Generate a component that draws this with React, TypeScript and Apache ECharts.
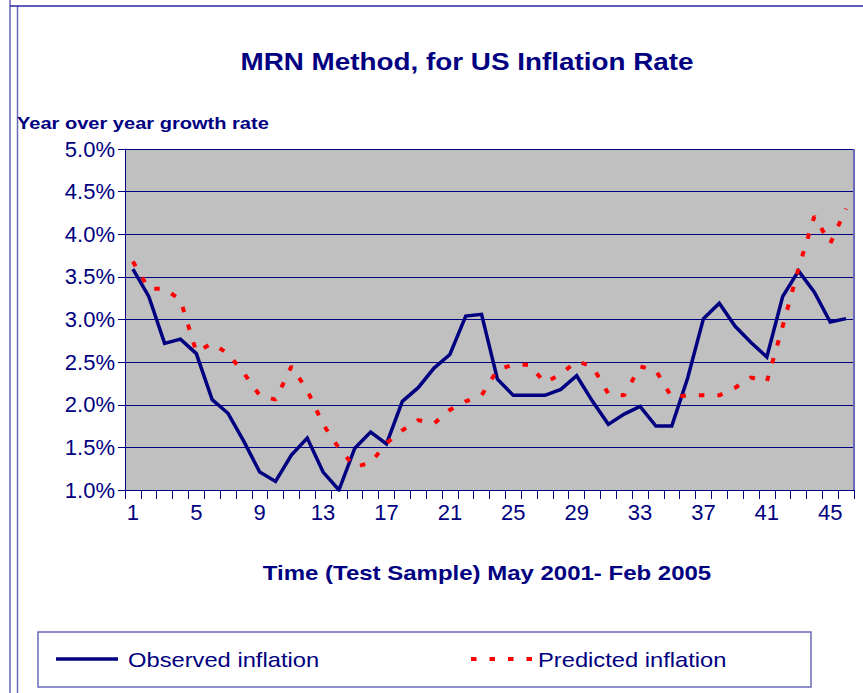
import React, { useEffect, useRef } from "react";
import * as echarts from "echarts";

const categories: string[] = Array.from({ length: 46 }, (_, i) => String(i + 1));

const observed: number[] = [
  3.59, 3.27, 2.72, 2.77, 2.6, 2.06, 1.9, 1.57, 1.21, 1.1,
  1.41, 1.61, 1.21, 1.0, 1.49, 1.68, 1.54, 2.04, 2.2, 2.43,
  2.59, 3.04, 3.06, 2.3, 2.11, 2.11, 2.11, 2.18, 2.34, 2.04,
  1.77, 1.89, 1.98, 1.75, 1.75, 2.31, 3.01, 3.19, 2.92, 2.73,
  2.56, 3.27, 3.57, 3.32, 2.97, 3.01,
];

const predicted: number[] = [
  3.68, 3.36, 3.36, 3.23, 2.62, 2.72, 2.6, 2.37, 2.11, 2.06,
  2.45, 2.17, 1.77, 1.49, 1.27, 1.32, 1.55, 1.7, 1.82, 1.78,
  1.94, 2.04, 2.11, 2.41, 2.47, 2.47, 2.26, 2.36, 2.51, 2.45,
  2.13, 2.11, 2.45, 2.4, 2.09, 2.11, 2.11, 2.11, 2.2, 2.32,
  2.27, 2.92, 3.6, 4.21, 3.89, 4.3,
];

const yMin = 1.0;
const yMax = 5.0;
const yStep = 0.5;

const titleText = "MRN Method, for US Inflation Rate";
const yTitleText = "Year over year growth rate";
const xTitleText = "Time (Test Sample) May 2001- Feb 2005";
const seriesNames = ["Observed inflation", "Predicted inflation"];

const FONT = "'Liberation Sans', Arial, sans-serif";
const NAVY = "#000080";

export default function App() {
  const ref = useRef<HTMLDivElement>(null);

  useEffect(() => {
    document.body.style.margin = "0";
    if (!ref.current) return;
    const chart = echarts.init(ref.current, undefined, { renderer: "svg" });
    chart.setOption({
      animation: false,
      backgroundColor: "#ffffff",
      grid: {
        left: 125,
        right: 9,
        top: 149,
        bottom: 203,
        containLabel: false,
        outerBoundsMode: "none",
        show: true,
        backgroundColor: "#c0c0c0",
        borderWidth: 0,
      },
      xAxis: {
        type: "category",
        data: categories,
        boundaryGap: true,
        axisLine: { show: true, lineStyle: { color: NAVY, width: 1 } },
        axisTick: {
          show: true,
          interval: 0,
          alignWithLabel: false,
          length: 9,
          lineStyle: { color: NAVY, width: 1 },
        },
        axisLabel: {
          interval: 3,
          margin: 11,
          color: NAVY,
          fontFamily: FONT,
          fontSize: 22,
        },
        splitLine: { show: false },
      },
      yAxis: {
        type: "value",
        min: yMin,
        max: yMax,
        interval: yStep,
        axisLine: { show: true, lineStyle: { color: NAVY, width: 1 } },
        axisTick: { show: true, length: 7, lineStyle: { color: NAVY, width: 1 } },
        axisLabel: {
          margin: 10,
          color: NAVY,
          fontFamily: FONT,
          fontSize: 22,
          formatter: (v: number) => v.toFixed(1) + "%",
        },
        splitLine: { show: true, lineStyle: { color: NAVY, width: 1 } },
      },
      series: [
        {
          name: seriesNames[0],
          type: "line",
          data: observed,
          symbol: "none",
          lineStyle: { color: NAVY, width: 3.5, join: "miter" },
          z: 3,
        },
        {
          name: seriesNames[1],
          type: "line",
          data: predicted,
          symbol: "none",
          lineStyle: { color: "#ff0000", width: 4, type: [5.5, 13], cap: "butt" },
          z: 4,
        },
      ],
      graphic: [
        // outer frame
        { type: "line", shape: { x1: 10, y1: 0, x2: 10, y2: 693 }, style: { stroke: "#8c8cc8", lineWidth: 2 }, silent: true },
        { type: "line", shape: { x1: 17.5, y1: 6, x2: 17.5, y2: 693 }, style: { stroke: "#6a6abb", lineWidth: 1.5 }, silent: true },
        { type: "line", shape: { x1: 10, y1: 6, x2: 863, y2: 6 }, style: { stroke: "#2828a0", lineWidth: 1.5 }, silent: true },
        // plot right border
        { type: "line", shape: { x1: 854, y1: 149, x2: 854, y2: 490 }, style: { stroke: "#6a6ab8", lineWidth: 2 }, silent: true, z: 10 },
        // title
        {
          type: "text",
          x: 467,
          y: 62,
          scaleX: 1.16,
          style: {
            text: titleText,
            fill: NAVY,
            font: `bold 24px ${FONT}`,
            align: "center",
            verticalAlign: "middle",
          },
        },
        {
          type: "text",
          x: 17,
          y: 123,
          scaleX: 1.18,
          style: {
            text: yTitleText,
            fill: NAVY,
            font: `bold 17px ${FONT}`,
            align: "left",
            verticalAlign: "middle",
          },
        },
        {
          type: "text",
          x: 487,
          y: 573,
          scaleX: 1.2,
          style: {
            text: xTitleText,
            fill: NAVY,
            font: `bold 20px ${FONT}`,
            align: "center",
            verticalAlign: "middle",
          },
        },
        // legend
        {
          type: "rect",
          shape: { x: 38, y: 632, width: 773, height: 55 },
          style: { fill: "#ffffff", stroke: "#6a6ab8", lineWidth: 1.5 },
        },
        {
          type: "line",
          shape: { x1: 56, y1: 659, x2: 118, y2: 659 },
          style: { stroke: NAVY, lineWidth: 3.5 },
          z: 2,
        },
        {
          type: "text",
          x: 128,
          y: 660,
          z: 2,
          scaleX: 1.13,
          style: {
            text: seriesNames[0],
            fill: NAVY,
            font: `21px ${FONT}`,
            align: "left",
            verticalAlign: "middle",
          },
        },
        {
          type: "line",
          shape: { x1: 471, y1: 659, x2: 533, y2: 659 },
          style: { stroke: "#ff0000", lineWidth: 4, lineDash: [5.5, 13] },
          z: 2,
        },
        {
          type: "text",
          x: 538,
          y: 660,
          z: 2,
          scaleX: 1.13,
          style: {
            text: seriesNames[1],
            fill: NAVY,
            font: `21px ${FONT}`,
            align: "left",
            verticalAlign: "middle",
          },
        },
      ],
    });
    return () => chart.dispose();
  }, []);

  return <div ref={ref} style={{ width: 863, height: 693 }} />;
}
